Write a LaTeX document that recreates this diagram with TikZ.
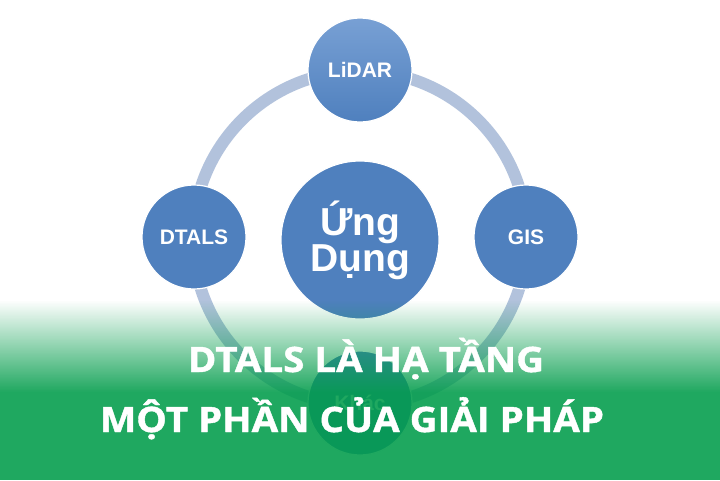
\documentclass[tikz,border=0pt]{standalone}
\usepackage{fontspec}
\setmainfont{Liberation Sans}
\newfontfamily\headfont[FakeStretch=1.1, FakeBold=1.2]{Open Sans}
\usetikzlibrary{fadings}
\definecolor{ringc}{RGB}{178,194,220}
\definecolor{bluec}{RGB}{79,128,190}
\definecolor{bluetop}{RGB}{120,160,212}
\definecolor{greenc}{RGB}{0,156,74}
\tikzfading[name=fadedown, top color=transparent!100, bottom color=transparent!0]
\begin{document}
\begin{tikzpicture}[x=1pt,y=-1pt,
  bubble/.style={circle, draw=white, line width=1.2pt, top color=bluetop, bottom color=bluec, text=white, font=\bfseries, inner sep=0pt, align=center},
  smallbub/.style={bubble, minimum size=104pt, font=\fontsize{21}{23}\selectfont\bfseries},
  bigbub/.style={bubble, minimum size=158pt, top color=bluec, font=\fontsize{39}{42}\selectfont\bfseries},
  ring/.style={draw=ringc, line width=12pt},
  headline/.style={text=white, anchor=base, font=\headfont\fontsize{35}{38}\selectfont\bfseries, inner sep=0pt}
]
\useasboundingbox (0,0) rectangle (720,480);
\fill[white] (0,0) rectangle (720,480);
\coordinate (ringcenter) at (360,238);
\draw[ring] (ringcenter) circle[radius=167];
\node[smallbub] (lidar) at (360,70) {LiDAR};
\node[smallbub, top color=bluec] (dtals) at (194,237) {DTALS};
\node[smallbub, top color=bluec] (gis) at (526,237) {GIS};
\node[smallbub, top color=bluec] (khac) at (360,403) {Khác};
\node[bigbub] (ungdung) at (360,240) {Ứng\\[-6pt]Dụng};
% green overlay
\fill[greenc, path fading=fadedown, opacity=0.88] (0,300) rectangle (720,392);
\fill[greenc, opacity=0.88] (0,391.5) rectangle (720,480);
\node[headline] (line1) at (366,372) {DTALS LÀ HẠ TẦNG};
\node[headline] (line2) at (352,432) {MỘT PHẦN CỦA GIẢI PHÁP};
\end{tikzpicture}
\end{document}
